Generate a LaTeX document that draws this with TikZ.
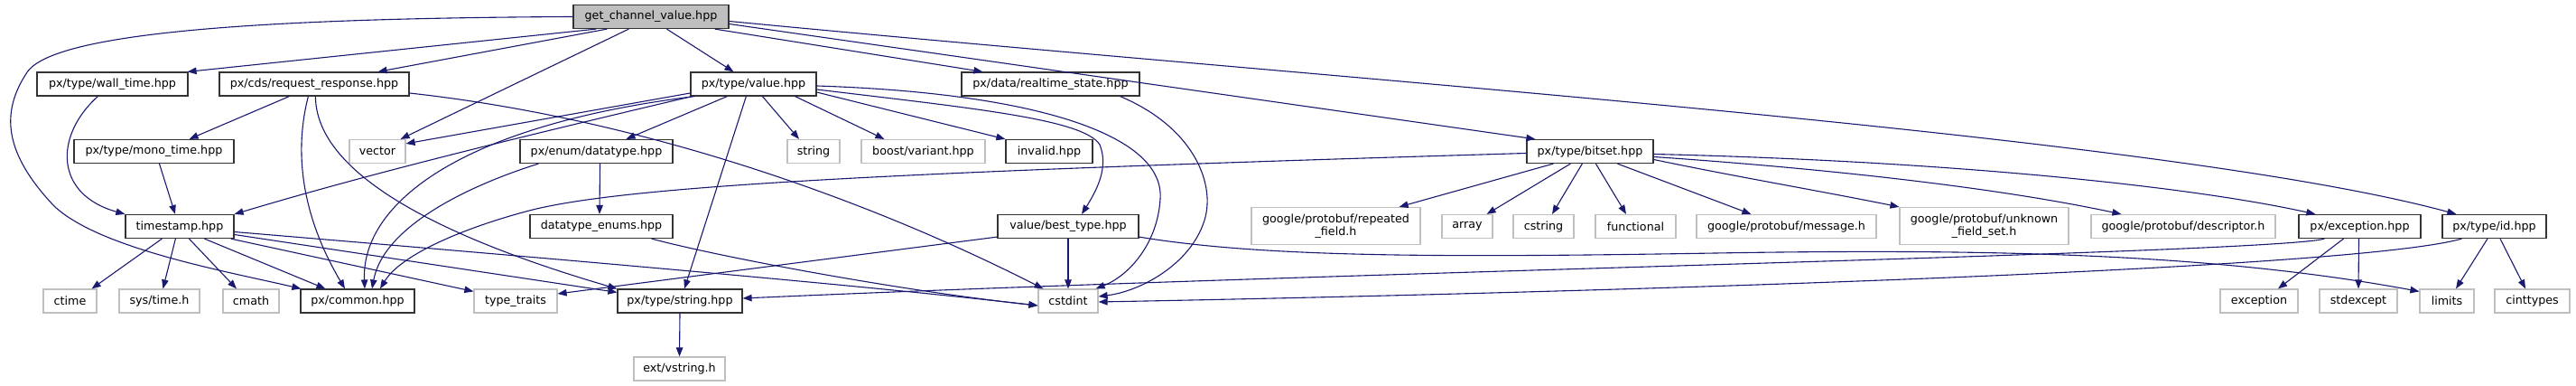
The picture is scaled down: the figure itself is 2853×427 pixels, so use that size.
\documentclass[tikz,border=0pt]{standalone}
\usepackage{fontspec}
\newfontfamily\graphfont{DejaVu Sans}
\usepackage{tikz}
\usetikzlibrary{arrows.meta}
\definecolor{edgecol}{HTML}{191970}
\definecolor{syscol}{HTML}{BFBFBF}

\begin{document}
\begin{tikzpicture}[x=1pt,y=-1pt,
    box/.style={rectangle,draw=black!80,fill=white,line width=1.2pt,minimum height=26pt,
        inner sep=0pt,align=center,font=\graphfont\fontsize{12.7}{14}\selectfont},
    sysbox/.style={box,draw=syscol},
    rootbox/.style={box,fill=syscol},
    dep/.style={draw=edgecol,line width=1.1pt,-{Triangle[length=10pt,width=7.5pt]}}
    ]
% Graphe des dependances d'inclusion
\useasboundingbox (0,0) rectangle (2853,427);

\node[rootbox,minimum width=172pt] (gcv) at (721,18.5) {get\_channel\_value.hpp};

\node[box,minimum width=167pt] (wall) at (124.5,93) {px/type/wall\_time.hpp};
\node[box,minimum width=210pt] (rr) at (348,93) {px/cds/request\_response.hpp};
\node[box,minimum width=139pt] (value) at (834.5,93) {px/type/value.hpp};
\node[box,minimum width=197pt] (rts) at (1163.5,93) {px/data/realtime\_state.hpp};

\node[box,minimum width=177pt] (mono) at (170.5,167.5) {px/type/mono\_time.hpp};
\node[sysbox,minimum width=62pt] (vector) at (418,167.5) {vector};
\node[box,minimum width=169pt] (dtype) at (660.5,167.5) {px/enum/datatype.hpp};
\node[sysbox,minimum width=58pt] (string) at (901,167.5) {string};
\node[sysbox,minimum width=137pt] (variant) at (1022.5,167.5) {boost/variant.hpp};
\node[box,minimum width=96pt] (invalid) at (1162,167.5) {invalid.hpp};
\node[box,minimum width=140pt] (bitset) at (1761,167.5) {px/type/bitset.hpp};

\node[box,minimum width=120pt] (tstamp) at (199,250.5) {timestamp.hpp};
\node[box,minimum width=158pt] (denums) at (666,250.5) {datatype\_enums.hpp};
\node[box,minimum width=156pt] (best) at (1183,250.5) {value/best\_type.hpp};
\node[sysbox,minimum width=187pt,minimum height=41pt] (repeated) at (1479.5,250) {google/protobuf/repeated\\\_field.h};
\node[sysbox,minimum width=56pt] (array) at (1625,250.5) {array};
\node[sysbox,minimum width=67pt] (cstring) at (1709.5,250.5) {cstring};
\node[sysbox,minimum width=89pt] (functional) at (1811.5,250.5) {functional};
\node[sysbox,minimum width=199pt] (message) at (1978.5,250.5) {google/protobuf/message.h};
\node[sysbox,minimum width=187pt,minimum height=41pt] (unknown) at (2197.5,250) {google/protobuf/unknown\\\_field\_set.h};
\node[sysbox,minimum width=204pt] (descriptor) at (2418,250.5) {google/protobuf/descriptor.h};
\node[box,minimum width=135pt] (pxexc) at (2613.5,250.5) {px/exception.hpp};
\node[box,minimum width=115pt] (typeid) at (2762.5,250.5) {px/type/id.hpp};

\node[sysbox,minimum width=59pt] (ctime) at (77.5,333) {ctime};
\node[sysbox,minimum width=89pt] (systime) at (176.5,333) {sys/time.h};
\node[sysbox,minimum width=62pt] (cmath) at (278,333) {cmath};
\node[box,minimum width=126pt] (common) at (396,333) {px/common.hpp};
\node[sysbox,minimum width=92pt] (traits) at (571,333) {type\_traits};
\node[box,minimum width=138pt] (pxstring) at (753,333) {px/type/string.hpp};
\node[sysbox,minimum width=66pt] (cstdint) at (1183,333) {cstdint};
\node[sysbox,minimum width=86pt] (exception) at (2502,333) {exception};
\node[sysbox,minimum width=86pt] (stdexcept) at (2612,333) {stdexcept};
\node[sysbox,minimum width=60pt] (limits) at (2710,333) {limits};
\node[sysbox,minimum width=83pt] (cinttypes) at (2804.5,333) {cinttypes};

\node[sysbox,minimum width=101pt] (vstring) at (752.5,408) {ext/vstring.h};

% get_channel_value.hpp
\draw[dep] (gcv.west) .. controls (300,20) and (60,35) .. (30,80)
    .. controls (0,125) and (5,170) .. (60,228)
    .. controls (110,275) and (250,300) .. ([xshift=1pt]common.north west);
\draw[dep] ([xshift=26pt]gcv.south west) -- ([xshift=-1pt]wall.north east);
\draw[dep] ([xshift=38pt]gcv.south west) -- ([xshift=-35pt]rr.north east);
\draw[dep] ([xshift=62pt]gcv.south west) -- ([xshift=-6pt]vector.north east);
\draw[dep] ([xshift=104pt]gcv.south west) -- ([xshift=-22pt]value.north);
\draw[dep] ([xshift=-16pt]gcv.south east) -- ([xshift=24pt]rts.north west);
\draw[dep] ([yshift=-8pt]gcv.east) -- ([xshift=10pt]bitset.north west);
\draw[dep] ([yshift=-5pt]gcv.east) .. controls (1500,90) and (2400,150) .. ([xshift=16pt]typeid.north west);

% px/type/value.hpp
\draw[dep] ([yshift=-10pt]value.west) -- ([yshift=-5pt]vector.north east);
\draw[dep] ([xshift=2pt]value.south west) .. controls (540,160) and (400,195) .. (tstamp.north east);
\draw[dep] ([xshift=5pt]value.south west) .. controls (500,140) and (400,230) .. ([xshift=8pt]common.north);
\draw[dep] ([xshift=41pt]value.south west) -- ([xshift=33pt]dtype.north);
\draw[dep] ([xshift=62pt]value.south west) -- ([xshift=5pt]pxstring.north);
\draw[dep] ([xshift=80pt]value.south west) -- ([xshift=-16pt]string.north);
\draw[dep] ([xshift=-24pt]value.south east) -- ([xshift=26pt]variant.north west);
\draw[dep] ([yshift=-9pt]value.east) -- (invalid.north west);
\draw[dep] ([yshift=-6pt]value.east) .. controls (1080,120) and (1200,132) .. (1218,160)
    .. controls (1228,185) and (1215,210) .. ([xshift=15pt]best.north);
\draw[dep] ([yshift=-2pt]value.east) .. controls (1150,103) and (1290,150) .. (1285,220)
    .. controls (1282,270) and (1250,305) .. ([xshift=-3pt]cstdint.north east);

% px/data/realtime_state.hpp
\draw[dep] ([xshift=-22pt]rts.south east) .. controls (1320,140) and (1345,200) .. (1335,240)
    .. controls (1322,290) and (1265,322) .. ([yshift=5pt]cstdint.east);

% px/cds/request_response.hpp
\draw[dep] ([xshift=78pt]rr.south west) -- ([xshift=-50pt]mono.north east);
\draw[dep] ([xshift=99pt]rr.south west) .. controls (325,170) and (335,240) .. ([xshift=-14pt]common.north);
\draw[dep] ([xshift=107pt]rr.south west) .. controls (350,190) and (480,260) .. (pxstring.north west);
\draw[dep] ([yshift=-10pt]rr.east) .. controls (700,130) and (950,215) .. ([xshift=6pt]cstdint.north west);

% horloges
\draw[dep] ([xshift=68pt]wall.south west) .. controls (60,150) and (60,215) .. (tstamp.north west);
\draw[dep] ([xshift=6pt]mono.south) -- ([xshift=-5pt]tstamp.north);

% px/enum/datatype.hpp
\draw[dep] ([xshift=21pt]dtype.south west) .. controls (520,205) and (425,250) .. ([xshift=16pt]common.north);
\draw[dep] ([xshift=4pt]dtype.south) -- ([xshift=-2pt]denums.north);
\draw[dep] ([xshift=-24pt]denums.south east) .. controls (800,285) and (1000,322) .. ([yshift=-5pt]cstdint.west);

% timestamp.hpp
\draw[dep] ([xshift=41pt]tstamp.south west) -- ([xshift=-6pt]ctime.north east);
\draw[dep] ([xshift=56pt]tstamp.south west) -- ([xshift=4pt]systime.north);
\draw[dep] ([xshift=71pt]tstamp.south west) -- ([xshift=-16pt]cmath.north);
\draw[dep] ([xshift=88pt]tstamp.south west) -- ([xshift=28pt]common.north west);
\draw[dep] ([xshift=-4pt]tstamp.south east) -- ([yshift=-3pt]traits.north west);
\draw[dep] ([yshift=-9pt]tstamp.east) -- ([yshift=-4pt]pxstring.north west);
\draw[dep] ([yshift=-6pt]tstamp.east) .. controls (600,285) and (950,315) .. ([yshift=-5pt]cstdint.west);

% px/type/bitset.hpp
\draw[dep] ([yshift=-2pt]bitset.west) .. controls (1000,190) and (700,205) .. (590,232)
    .. controls (520,250) and (445,280) .. ([xshift=25pt]common.north);
\draw[dep] ([xshift=30pt]bitset.south west) -- ([xshift=-24pt]repeated.north east);
\draw[dep] ([xshift=49pt]bitset.south west) -- ([xshift=-7pt]array.north east);
\draw[dep] ([xshift=62pt]bitset.south west) -- ([xshift=9.5pt]cstring.north);
\draw[dep] ([xshift=77pt]bitset.south west) -- ([xshift=-10.5pt]functional.north);
\draw[dep] ([xshift=101pt]bitset.south west) -- ([xshift=61pt]message.north west);
\draw[dep] ([yshift=-9pt]bitset.east) .. controls (1920,195) and (2020,212) .. (unknown.north west);
\draw[dep] ([yshift=-6pt]bitset.east) .. controls (2000,185) and (2200,205) .. ([xshift=34pt]descriptor.north west);
\draw[dep] ([yshift=-3pt]bitset.east) .. controls (2150,178) and (2420,205) .. ([xshift=19pt]pxexc.north west);

% px/exception.hpp et px/type/id.hpp
\draw[dep] ([xshift=29pt]pxexc.south west) .. controls (2520,280) and (1500,300) .. ([yshift=3pt]pxstring.east);
\draw[dep] ([xshift=-18pt]pxexc.south) -- ([xshift=21pt]exception.north);
\draw[dep] ([xshift=-1pt]pxexc.south) -- (stdexcept.north);
\draw[dep] ([xshift=22pt]typeid.south west) .. controls (2600,300) and (1700,325) .. ([yshift=-1pt]cstdint.east);
\draw[dep] ([xshift=-7.5pt]typeid.south) -- ([xshift=10pt]limits.north);
\draw[dep] ([xshift=6.5pt]typeid.south) -- ([xshift=-7.5pt]cinttypes.north);

% value/best_type.hpp
\draw[dep] ([yshift=2pt]best.south west) -- ([yshift=8pt]traits.east);
\draw[dep] (best.south) -- (cstdint.north);
\draw[dep] ([yshift=2pt]best.south east) .. controls (1400,285) and (1600,285) .. (1900,280)
    .. controls (2200,275) and (2450,280) .. ([yshift=-3pt]limits.north west);

% px/type/string.hpp
\draw[dep] (pxstring.south) -- (vstring.north);
\end{tikzpicture}
\end{document}
